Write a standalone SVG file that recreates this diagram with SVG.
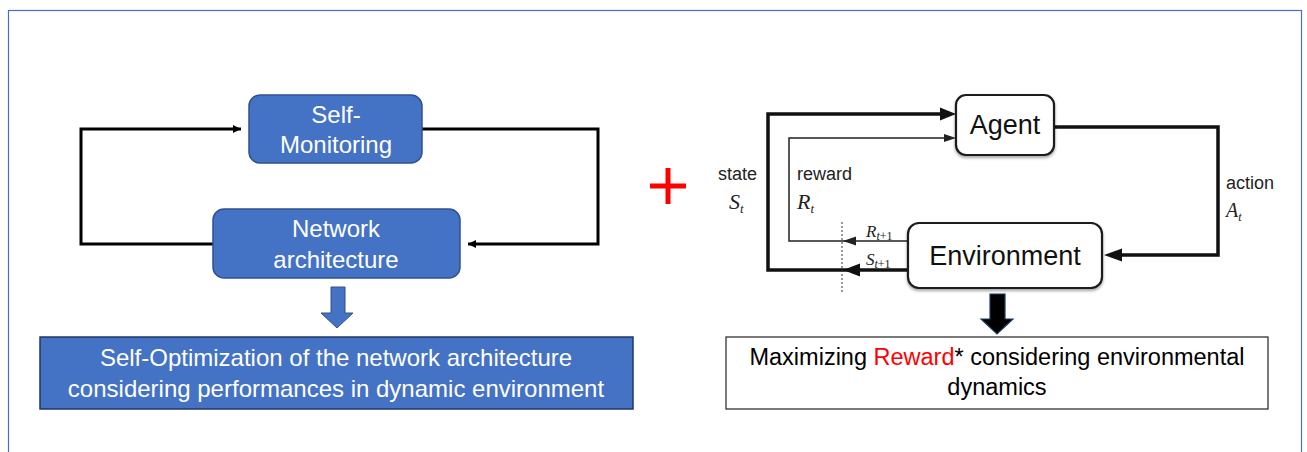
<svg xmlns="http://www.w3.org/2000/svg" width="1307" height="452" viewBox="0 0 1307 452">
<style>
.frame{fill:none;stroke:#4a6fb5;stroke-width:1.2}
.bbox{fill:#4472C4;stroke:#2F528F;stroke-width:1.5}
.btxt{font-family:"Liberation Sans",Arial,sans-serif;font-size:24px;fill:#fff;text-anchor:middle}
.wtxt{font-family:"Liberation Sans",Arial,sans-serif;font-size:23.5px;fill:#000;text-anchor:middle}
.rlbox{fill:#fff;stroke:#1a1a1a;stroke-width:2.2}
.rltxt{font-family:"Liberation Sans",Helvetica,Arial,sans-serif;font-size:27px;fill:#111;text-anchor:middle}
.lbl{font-family:"Liberation Sans",Helvetica,Arial,sans-serif;font-size:18px;fill:#222}
.math{font-family:"Liberation Serif","Times New Roman",serif;font-style:italic;fill:#222}
.loop{fill:none;stroke:#000;stroke-width:3}
.thick{fill:none;stroke:#111;stroke-width:3.5}
.thin{fill:none;stroke:#222;stroke-width:1.5}
</style>
<defs>
<marker id="ahS" markerWidth="10" markerHeight="10" refX="8" refY="4" orient="auto" markerUnits="userSpaceOnUse"><path d="M0,0 L8,4 L0,8 Z" fill="#000"/></marker>
<filter id="sh" x="-10%" y="-10%" width="120%" height="130%"><feDropShadow dx="0" dy="2" stdDeviation="1.5" flood-color="#000" flood-opacity="0.35"/></filter>
</defs>

<rect class="frame" x="8.5" y="10.5" width="1293" height="470"/>

<g id="connectors">
  <path class="loop" d="M213,244 H81 V129 H241" marker-end="url(#ahS)"/>
  <path class="loop" d="M422,129 H598 V244 H468" marker-end="url(#ahS)"/>
  <path class="thick" d="M908,270 H768 V114 H940"/>
  <path d="M940,107.5 L956,114 L940,120.5 Z" fill="#111"/>
  <path class="thin" d="M908,241 H789 V138 H944"/>
  <path d="M944,134 L956,138 L944,142 Z" fill="#222"/>
  <path d="M856,236.5 L843,241 L856,245.5 Z" fill="#222"/>
  <path d="M860,263.5 L843,270 L860,276.5 Z" fill="#111"/>
  <path class="thick" d="M1054,127 H1218 V255 H1120"/>
  <path d="M1122,248.5 L1104,255 L1122,261.5 Z" fill="#111"/>
  <line x1="842" y1="222" x2="842" y2="292" stroke="#333" stroke-width="1" stroke-dasharray="2,2"/>
  <path d="M331,287 H345 V313 H353 L337,328 L321,313 H331 Z" fill="#4472C4" stroke="#2F528F" stroke-width="1"/>
  <path d="M990,294 H1005 V319 H1013 L997,334 L981,319 H990 Z" fill="#000" stroke="#203864" stroke-width="1.2"/>
</g>

<g id="self-monitoring">
  <rect class="bbox" x="249" y="95" width="173" height="68" rx="11"/>
  <text class="btxt" x="336" y="123">Self-</text>
  <text class="btxt" x="336" y="153">Monitoring</text>
</g>

<g id="network-architecture">
  <rect class="bbox" x="213" y="209" width="247" height="69" rx="11"/>
  <text class="btxt" x="336" y="237">Network</text>
  <text class="btxt" x="336" y="268">architecture</text>
</g>

<g id="self-optimization">
  <rect x="40" y="337" width="593" height="72" fill="#4472C4" stroke="#1F3864" stroke-width="1.5"/>
  <text class="btxt" x="336" y="366">Self-Optimization of the network architecture</text>
  <text class="btxt" x="336" y="397">considering performances in dynamic environment</text>
</g>

<g id="plus">
  <path d="M668,168 V204 M650,186 H686" stroke="#f00" stroke-width="5" fill="none"/>
</g>

<g id="agent">
  <rect class="rlbox" x="956" y="95" width="98" height="60" rx="10" filter="url(#sh)"/>
  <text class="rltxt" x="1005" y="134">Agent</text>
</g>

<g id="environment">
  <rect class="rlbox" x="908" y="223" width="194" height="65" rx="11" filter="url(#sh)"/>
  <text class="rltxt" x="1005" y="265">Environment</text>
</g>

<g id="rl-labels">
  <text class="lbl" x="718" y="180">state</text>
  <text class="math" x="729" y="209" font-size="22">S<tspan font-size="13" dy="4">t</tspan></text>
  <text class="lbl" x="797" y="180">reward</text>
  <text class="math" x="797" y="209" font-size="22">R<tspan font-size="13" dy="4">t</tspan></text>
  <text class="math" x="866" y="237" font-size="17">R<tspan font-size="12" dy="3">t</tspan><tspan font-size="12" font-style="normal">+1</tspan></text>
  <text class="math" x="866" y="265" font-size="17">S<tspan font-size="12" dy="3">t</tspan><tspan font-size="12" font-style="normal">+1</tspan></text>
  <text class="lbl" x="1226" y="189">action</text>
  <text class="math" x="1226" y="217" font-size="20">A<tspan font-size="12" dy="4">t</tspan></text>
</g>

<g id="maximizing-reward">
  <rect x="726" y="337" width="542" height="72" fill="#fff" stroke="#222" stroke-width="1.2"/>
  <text class="wtxt" x="997" y="365">Maximizing <tspan fill="#f00">Reward</tspan>* considering environmental</text>
  <text class="wtxt" x="997" y="395">dynamics</text>
</g>
</svg>
